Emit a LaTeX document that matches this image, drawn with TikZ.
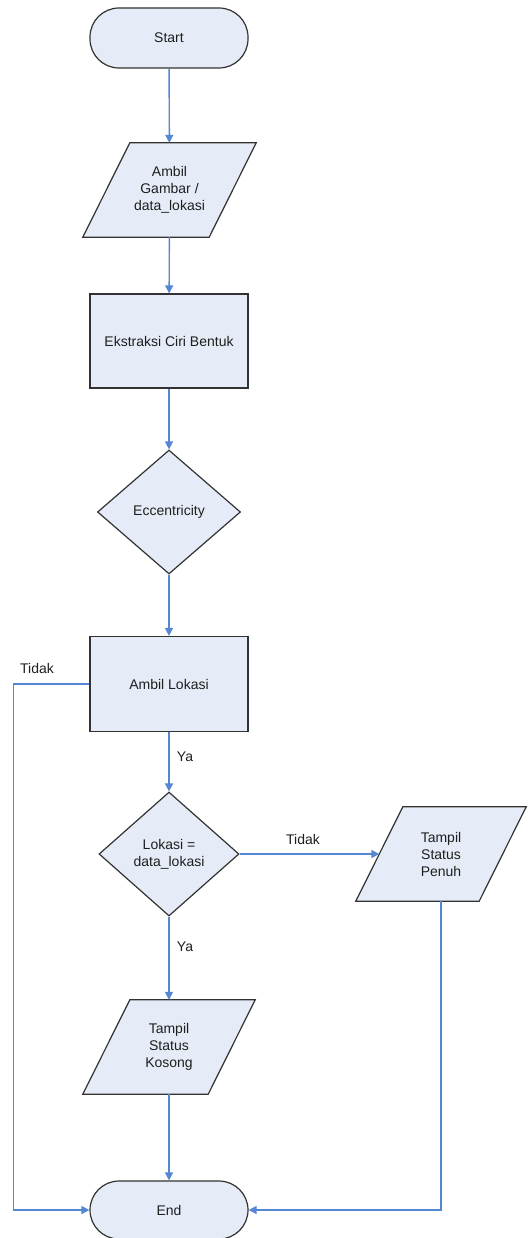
\documentclass[tikz,border=0pt]{standalone}
\usepackage{fontspec}
\setmainfont{Liberation Sans}
\usetikzlibrary{shapes.geometric,arrows.meta,backgrounds}
\definecolor{fillc}{RGB}{230,236,247}
\definecolor{linec}{RGB}{84,134,212}
\definecolor{borderc}{RGB}{50,50,50}
\definecolor{textc}{RGB}{30,30,30}
\begin{document}
\begin{tikzpicture}[x=1pt,y=-1pt,
  every node/.style={font=\fontsize{14}{17}\selectfont, text=textc},
  base/.style={draw=borderc, line width=1.2pt, fill=fillc, inner sep=0pt, line join=miter},
  term/.style={base, rectangle, rounded corners=29pt, minimum width=158pt, minimum height=60pt},
  proc/.style={base, rectangle, minimum width=158pt, minimum height=94pt},
  dec/.style={base, diamond, minimum width=142pt, minimum height=124pt, align=center},
  io/.style={inner sep=0pt, minimum width=173pt, minimum height=94pt, align=center},
  flow/.style={draw=linec, line width=1.4pt, -{Triangle[length=8pt,width=8pt]}},
  lbl/.style={inner sep=0pt}]
\useasboundingbox (0,0) rectangle (527,1238);

\node[term] (start) at (169,38) {Start};
\node[io] (gambar) at (169.5,190) {Ambil\\Gambar /\\data\_lokasi};
\node[proc] (ekstraksi) at (169,341) {Ekstraksi Ciri Bentuk};
\node[dec, minimum width=143pt] (ecc) at (169,512) {Eccentricity};
\node[proc, minimum height=95pt] (ambillok) at (169,684) {Ambil Lokasi};
\node[dec, minimum width=140pt] (lokasi) at (169,854) {Lokasi =\\data\_lokasi};
\node[io, minimum width=170pt] (penuh) at (441,854) {Tampil\\Status\\Penuh};
\node[io, minimum width=172pt] (kosong) at (169,1047) {Tampil\\Status\\Kosong};
\node[term, minimum height=58pt] (end) at (169,1210) {End};

\begin{scope}[on background layer]
\foreach \n in {gambar,penuh,kosong}
  \draw[base] (\n.south west) -- ([xshift=-47pt]\n.south east) -- (\n.north east) -- ([xshift=47pt]\n.north west) -- cycle;
\end{scope}

\coordinate (penuhin) at ([xshift=23.5pt]penuh.west);

\draw[flow] (start) -- (gambar);
\draw[flow] (gambar) -- (ekstraksi);
\draw[flow] (ekstraksi) -- (ecc);
\draw[flow] (ecc) -- (ambillok);
\draw[flow] (ambillok) -- (lokasi);
\draw[flow] (lokasi) -- (kosong);
\draw[flow] (kosong) -- (end);
\draw[flow] (lokasi.east) -- (penuhin);
\draw[flow] (ambillok.west) -- ++(-76,0) |- (end.west);
\draw[flow] (penuh.south) |- (end.east);

\node[lbl] (l1) at (37,668) {Tidak};
\node[lbl] (l2) at (185,757) {Ya};
\node[lbl] (l3) at (303,839) {Tidak};
\node[lbl] (l4) at (185,947) {Ya};
\end{tikzpicture}
\end{document}
